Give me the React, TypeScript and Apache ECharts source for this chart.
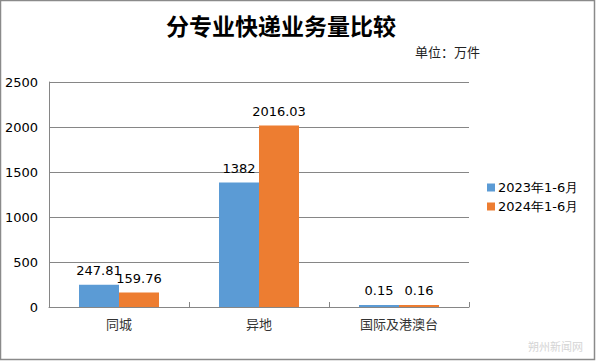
import React, { useEffect, useRef } from "react";
import * as echarts from "echarts";

const categories = ["同城", "异地", "国际及港澳台"];
const series2023 = [247.81, 1382, 0.15];
const series2024 = [159.76, 2016.03, 0.16];
const seriesNames = ["2023年1-6月", "2024年1-6月"];
const yTicks = { min: 0, max: 2500, interval: 500 };

export default function App() {
  const ref = useRef<HTMLDivElement>(null);
  useEffect(() => {
    document.body.style.margin = "0";
    const chart = echarts.init(ref.current!, null, { renderer: "svg" });
    const labelStyle = {
      show: true,
      position: "top" as const,
      distance: 8,
      fontFamily: "DejaVu Sans",
      fontSize: 13,
      color: "#000",
    };
    chart.setOption({
      animation: false,
      backgroundColor: "#fff",
      title: [
        {
          text: "分专业快递业务量比较",
          left: 276,
          top: 8,
          textAlign: "center",
          textStyle: { fontFamily: "Noto Sans CJK SC", fontWeight: "bold", fontSize: 23, color: "#000" },
        },
        {
          text: "单位：万件",
          left: 410,
          top: 40,
          textStyle: { fontFamily: "Noto Sans CJK SC", fontWeight: "normal", fontSize: 13, color: "#222" },
        },
      ],
      legend: {
        orient: "vertical",
        left: 482,
        top: 176,
        itemWidth: 8,
        itemHeight: 8,
        itemGap: 6,
        icon: "rect",
        textStyle: { fontFamily: "DejaVu Sans", fontSize: 13, color: "#000", padding: [0, 0, 0, -2] },
        data: seriesNames,
      },
      grid: { left: 49, top: 82, width: 420, height: 225 },
      xAxis: {
        type: "category",
        data: categories,
        axisLine: { lineStyle: { color: "#868686", width: 1 } },
        axisTick: { show: true, inside: true, length: 5, lineStyle: { color: "#868686" } },
        axisLabel: { fontFamily: "Noto Sans CJK SC", fontSize: 13, color: "#333", margin: 10 },
      },
      yAxis: {
        type: "value",
        min: yTicks.min,
        max: yTicks.max,
        interval: yTicks.interval,
        axisLine: { show: true, lineStyle: { color: "#868686", width: 1 } },
        axisTick: { show: false },
        axisLabel: {
          fontFamily: "DejaVu Sans",
          fontSize: 13,
          color: "#000",
          margin: 11,
          formatter: (v: number) => String(v),
        },
        splitLine: { lineStyle: { color: "#868686", width: 1 } },
      },
      series: [
        {
          name: seriesNames[0],
          type: "bar",
          data: series2023,
          barWidth: 40,
          barGap: "0%",
          barMinHeight: 2,
          itemStyle: { color: "#5B9BD5" },
          label: labelStyle,
        },
        {
          name: seriesNames[1],
          type: "bar",
          data: series2024,
          barWidth: 40,
          barGap: "0%",
          barMinHeight: 2,
          itemStyle: { color: "#ED7D31" },
          label: labelStyle,
        },
      ],
      graphic: [
        {
          type: "rect",
          shape: { x: 0.5, y: 0.5, width: 594, height: 359 },
          style: { fill: "none", stroke: "#8a8a8a", lineWidth: 1.5 },
          silent: true,
        },
        {
          type: "text",
          left: 528,
          top: 340,
          style: { text: "朔州新闻网", font: "11px 'Noto Sans CJK SC'", fill: "#d4d4d4" },
          silent: true,
        },
      ],
    });
    return () => chart.dispose();
  }, []);
  return <div ref={ref} style={{ width: 596, height: 362 }} />;
}
